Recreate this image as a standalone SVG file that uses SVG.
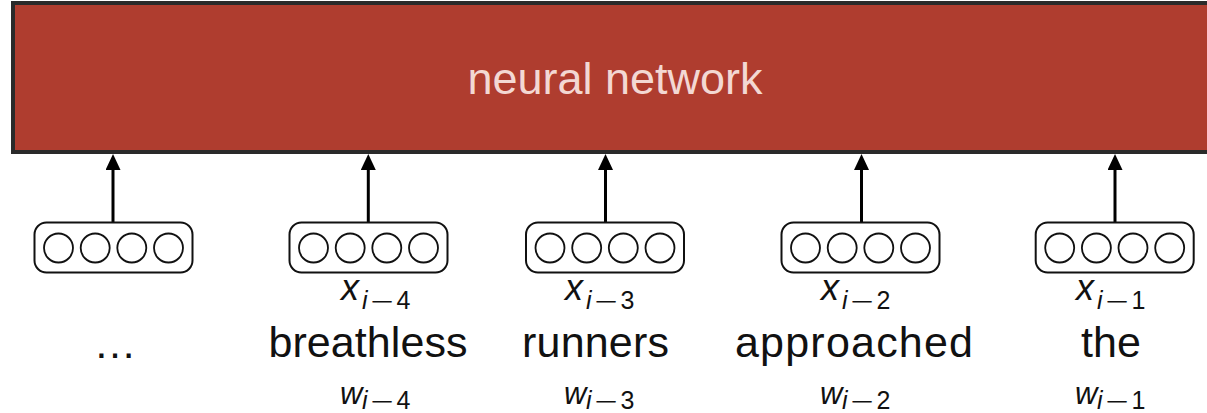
<svg xmlns="http://www.w3.org/2000/svg" width="1207" height="413" viewBox="0 0 1207 413">
  <style>
    .word { font-family: "Liberation Sans", Arial, sans-serif; font-size: 43px; fill: #111; text-anchor: middle; }
    .nn { font-family: "Liberation Sans", Arial, sans-serif; font-size: 45px; fill: #f3d8d3; text-anchor: middle; }
    .vx { font-family: "Liberation Sans", Arial, sans-serif; font-size: 36px; font-style: italic; fill: #111; }
    .vw { font-family: "Liberation Sans", Arial, sans-serif; font-size: 31px; font-style: italic; fill: #111; }
    .sub { font-family: "Liberation Sans", Arial, sans-serif; font-size: 25px; font-style: italic; fill: #111; }
    .op { font-family: "Liberation Sans", Arial, sans-serif; font-size: 22px; fill: #111; }
    .num { font-family: "Liberation Sans", Arial, sans-serif; font-size: 25px; fill: #111; }
    .vec { fill: #fff; stroke: #111; stroke-width: 2; }
    .unit { fill: #fff; stroke: #111; stroke-width: 1.8; }
    .conn { stroke: #000; stroke-width: 3; fill: none; marker-end: url(#head); }
  </style>
  <defs>
    <marker id="head" viewBox="0 0 16 15" markerUnits="userSpaceOnUse" markerWidth="16" markerHeight="15" refX="4" refY="7.5" orient="auto">
      <path d="M0,0 L16,7.5 L0,15 z" fill="#000"/>
    </marker>
    <!-- four-unit embedding vector, centred on its own origin -->
    <g id="embedding">
      <rect class="vec" x="-79" y="-25.5" width="158" height="50" rx="12" ry="12"/>
      <circle class="unit" cx="-55" cy="0" r="14.5"/>
      <circle class="unit" cx="-18.3" cy="0" r="14.5"/>
      <circle class="unit" cx="18.3" cy="0" r="14.5"/>
      <circle class="unit" cx="55" cy="0" r="14.5"/>
    </g>
  </defs>

  <rect width="1207" height="413" fill="#fff"/>

  <!-- network block -->
  <g id="neural-network">
    <rect x="13" y="3" width="1204" height="149" fill="#af3d2f" stroke="#2a2a2a" stroke-width="4"/>
    <text class="nn" x="615" y="94">neural network</text>
  </g>

  <!-- connectors: embeddings feeding the network -->
  <g id="connectors">
    <line class="conn" x1="113" y1="222" x2="113" y2="166"/>
    <line class="conn" x1="368.3" y1="222" x2="368.3" y2="166"/>
    <line class="conn" x1="605.5" y1="222" x2="605.5" y2="166"/>
    <line class="conn" x1="861.5" y1="222" x2="861.5" y2="166"/>
    <line class="conn" x1="1115" y1="222" x2="1115" y2="166"/>
  </g>

  <g id="emb-prev">
    <use href="#embedding" x="113.5" y="248"/>
    <text class="word" x="115" y="358">…</text>
  </g>

  <g id="emb-i-4">
    <use href="#embedding" x="368.5" y="248"/>
    <g transform="translate(342,0)">
      <text class="vx" x="-1" y="300">x</text>
      <text class="sub" x="20" y="309">i</text>
      <text class="op" transform="translate(28.5,309) scale(1.8,1)">−</text>
      <text class="num" x="54.5" y="309">4</text>
      <text class="vw" x="-2" y="404">w</text>
      <text class="sub" x="20" y="409">i</text>
      <text class="op" transform="translate(28.5,409) scale(1.8,1)">−</text>
      <text class="num" x="54.5" y="409">4</text>
    </g>
    <text class="word" x="368" y="357" textLength="199" lengthAdjust="spacing">breathless</text>
  </g>

  <g id="emb-i-3">
    <use href="#embedding" x="605" y="248"/>
    <g transform="translate(566,0)">
      <text class="vx" x="-1" y="300">x</text>
      <text class="sub" x="20" y="309">i</text>
      <text class="op" transform="translate(28.5,309) scale(1.8,1)">−</text>
      <text class="num" x="54.5" y="309">3</text>
      <text class="vw" x="-2" y="404">w</text>
      <text class="sub" x="20" y="409">i</text>
      <text class="op" transform="translate(28.5,409) scale(1.8,1)">−</text>
      <text class="num" x="54.5" y="409">3</text>
    </g>
    <text class="word" x="595.5" y="357" textLength="147" lengthAdjust="spacing">runners</text>
  </g>

  <g id="emb-i-2">
    <use href="#embedding" x="860.5" y="248"/>
    <g transform="translate(822,0)">
      <text class="vx" x="-1" y="300">x</text>
      <text class="sub" x="20" y="309">i</text>
      <text class="op" transform="translate(28.5,309) scale(1.8,1)">−</text>
      <text class="num" x="54.5" y="309">2</text>
      <text class="vw" x="-2" y="404">w</text>
      <text class="sub" x="20" y="409">i</text>
      <text class="op" transform="translate(28.5,409) scale(1.8,1)">−</text>
      <text class="num" x="54.5" y="409">2</text>
    </g>
    <text class="word" x="854" y="357" textLength="238" lengthAdjust="spacing">approached</text>
  </g>

  <g id="emb-i-1">
    <use href="#embedding" x="1114.7" y="248"/>
    <g transform="translate(1077,0)">
      <text class="vx" x="-1" y="300">x</text>
      <text class="sub" x="20" y="309">i</text>
      <text class="op" transform="translate(28.5,309) scale(1.8,1)">−</text>
      <text class="num" x="54.5" y="309">1</text>
      <text class="vw" x="-2" y="404">w</text>
      <text class="sub" x="20" y="409">i</text>
      <text class="op" transform="translate(28.5,409) scale(1.8,1)">−</text>
      <text class="num" x="54.5" y="409">1</text>
    </g>
    <text class="word" x="1111" y="357">the</text>
  </g>
</svg>
